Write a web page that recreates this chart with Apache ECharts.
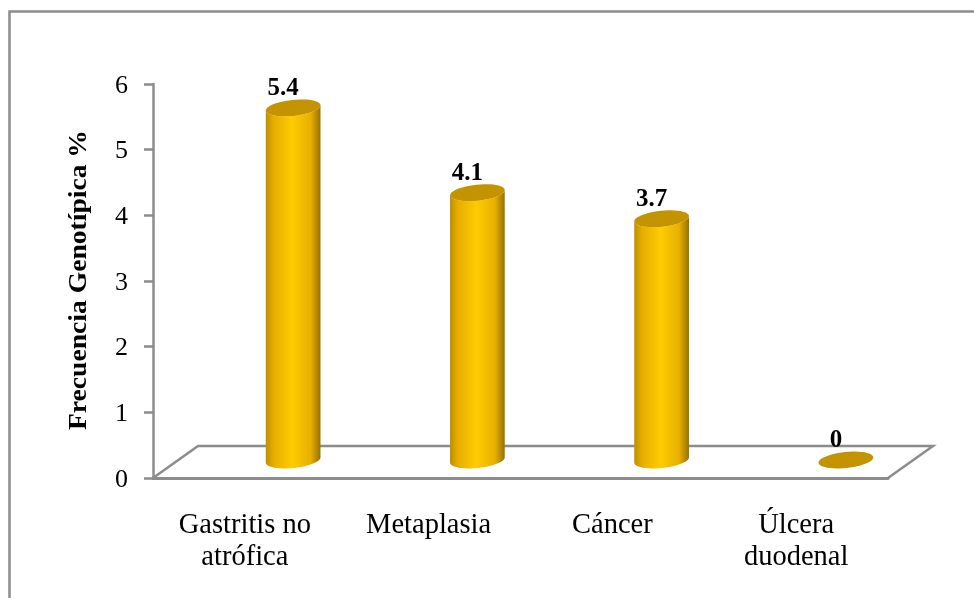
<!DOCTYPE html>
<html>
<head>
<meta charset="utf-8">
<style>html,body{margin:0;padding:0;background:#fff}#chart{width:974px;height:598px}</style>
<script src="https://cdn.jsdelivr.net/npm/echarts@6/dist/echarts.min.js"></script>
</head>
<body>
<div id="chart"></div>
<script>
// Genotype frequency by gastric diagnosis
const categories = ['Gastritis no\natrófica', 'Metaplasia', 'Cáncer', 'Úlcera\nduodenal'];
const frequencies = [5.4, 4.1, 3.7, 0];
const yTicks = [0, 1, 2, 3, 4, 5, 6];

const GREY = '#8c8c8c';
const SERIF = '"Liberation Serif", serif';
const RX = 27.5, RY = 8, TILT = -6 * Math.PI / 180;

// Point on a slightly tilted ellipse, as seen from the chart's 3D viewpoint
function rim(cx, cy, t) {
  const x = RX * Math.cos(t), y = RY * Math.sin(t);
  return [cx + x * Math.cos(TILT) - y * Math.sin(TILT), cy + x * Math.sin(TILT) + y * Math.cos(TILT)];
}
function ellipsePoints(cx, cy) {
  const pts = [];
  for (let i = 0; i < 48; i++) pts.push(rim(cx, cy, i / 48 * 2 * Math.PI));
  return pts;
}
const bodyFill = new echarts.graphic.LinearGradient(0, 0, 1, 0, [
  { offset: 0, color: '#bd8f00' },
  { offset: 0.14, color: '#e6ae00' },
  { offset: 0.48, color: '#ffcc00' },
  { offset: 0.82, color: '#e8b000' },
  { offset: 1, color: '#957100' }
]);

function renderCylinder(params, api) {
  const idx = api.value(0);
  const value = api.value(1);
  const base = api.coord([idx, 0]);
  const top = api.coord([idx, value]);
  const children = [];
  if (value > 0) {
    const body = [];
    for (let i = 0; i <= 24; i++) body.push(rim(top[0], base[1], i / 24 * Math.PI));
    for (let i = 0; i <= 24; i++) body.push(rim(top[0], top[1], Math.PI - i / 24 * Math.PI));
    children.push({ type: 'polygon', shape: { points: body }, style: { fill: bodyFill } });
  }
  children.push({ type: 'polygon', shape: { points: ellipsePoints(top[0], top[1]) }, style: { fill: '#c49300' } });
  return { type: 'group', children };
}

// The sloped floor, built on the axis plane
function renderFloor(params, api) {
  if (params.dataIndex !== 0) return null;
  const cs = params.coordSys;
  const x0 = cs.x, x1 = cs.x + cs.width, y0 = cs.y + cs.height;
  const depthX = 45, depthY = 32;
  return {
    type: 'polyline',
    shape: { points: [[x0, y0], [x0 + depthX, y0 - depthY], [x1 + depthX, y0 - depthY], [x1, y0]] },
    style: { fill: null, stroke: GREY, lineWidth: 2.5 },
    silent: true
  };
}

const chart = echarts.init(document.getElementById('chart'), null, { renderer: 'canvas' });
chart.setOption({
  animation: false,
  backgroundColor: '#fff',
  graphic: [{
    type: 'polyline',
    shape: { points: [[9.5, 598], [9.5, 11.5], [974, 11.5]] },
    style: { fill: null, stroke: GREY, lineWidth: 2.5 }
  }, {
    type: 'text',
    rotation: Math.PI / 2,
    scaleX: 1.104,
    x: 67, y: 430,
    style: { text: 'Frecuencia Genotípica %', font: 'bold 25px ' + SERIF, fill: '#000' }
  }],
  grid: [
    { left: 153, top: 84, width: 735, height: 394 },
    { left: 201, top: 68.8, width: 737, height: 391.2 }
  ],
  xAxis: [{
    type: 'category', gridIndex: 0, data: categories,
    axisTick: { show: false },
    axisLine: { lineStyle: { color: GREY, width: 3 } },
    axisLabel: { color: '#000', fontFamily: SERIF, fontSize: 28.5, lineHeight: 32, margin: 32, interval: 0 }
  }, {
    type: 'category', gridIndex: 1, data: categories, show: false
  }],
  yAxis: [{
    type: 'value', gridIndex: 0, min: 0, max: 6, interval: 1,
    splitLine: { show: false },
    axisLine: { show: true, lineStyle: { color: GREY, width: 2.5 } },
    axisTick: { show: true, length: 9, lineStyle: { color: GREY, width: 2.5 } },
    axisLabel: { color: '#000', fontFamily: SERIF, fontSize: 26, margin: 25, verticalAlign: 'top', lineHeight: 4,
      formatter: v => yTicks.includes(v) ? String(v) : '' }
  }, {
    type: 'value', gridIndex: 1, min: 0, max: 6, show: false, splitLine: { show: false }
  }],
  series: [{
    type: 'custom', xAxisIndex: 0, yAxisIndex: 0, z: 1, silent: true,
    data: frequencies.map((v, i) => [i, v]),
    renderItem: renderFloor
  }, {
    type: 'custom', xAxisIndex: 1, yAxisIndex: 1, z: 2, silent: true,
    data: frequencies.map((v, i) => [i, v]),
    encode: { x: 0, y: 1 },
    renderItem: renderCylinder
  }, {
    type: 'scatter', xAxisIndex: 1, yAxisIndex: 1, z: 3, silent: true,
    symbolSize: 0,
    itemStyle: { opacity: 1 },
    data: frequencies.map((v, i) => [i, v]),
    label: {
      show: true, position: 'top', distance: 7, offset: [-10, 0], color: '#000', opacity: 1,
      fontFamily: SERIF, fontWeight: 'bold', fontSize: 25,
      formatter: p => String(p.value[1])
    }
  }]
});
</script>
</body>
</html>
